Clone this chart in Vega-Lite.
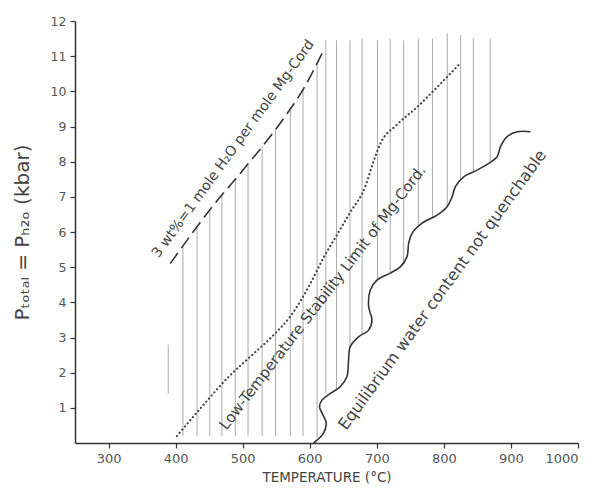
{
  "$schema": "https://vega.github.io/schema/vega-lite/v6.json",
  "width": 503,
  "height": 422,
  "autosize": {"type": "none"},
  "padding": {"left": 75, "top": 21, "right": 37, "bottom": 48},
  "background": "white",
  "config": {
    "view": {"stroke": null},
    "font": "DejaVu Sans",
    "axis": {"grid": false, "labelFont": "DejaVu Sans", "titleFont": "DejaVu Sans", "domainColor": "#333", "domainWidth": 1.5, "tickColor": "#333", "tickWidth": 1.2, "labelColor": "#555", "titleColor": "#444", "titleFontWeight": "normal"}
  },
  "datasets": {
    "hatch": [
      {"T": 389, "top": 2.8, "bot": 1.4},
      {"T": 411, "top": 5.59, "bot": 0.2},
      {"T": 432, "top": 6.13, "bot": 0.2},
      {"T": 451, "top": 6.62, "bot": 0.2},
      {"T": 469, "top": 7.05, "bot": 0.2},
      {"T": 489, "top": 7.5, "bot": 0.2},
      {"T": 508, "top": 7.94, "bot": 0.2},
      {"T": 529, "top": 8.45, "bot": 0.2},
      {"T": 549, "top": 8.93, "bot": 0.2},
      {"T": 571, "top": 9.5, "bot": 0.2},
      {"T": 590, "top": 10.05, "bot": 0.2},
      {"T": 611, "top": 10.8, "bot": 0.15},
      {"T": 624, "top": 11.45, "bot": 1.4},
      {"T": 640, "top": 11.45, "bot": 1.55},
      {"T": 660, "top": 11.45, "bot": 2.7},
      {"T": 678, "top": 11.5, "bot": 3.1},
      {"T": 701, "top": 11.45, "bot": 4.65},
      {"T": 720, "top": 11.5, "bot": 4.83},
      {"T": 740, "top": 11.45, "bot": 5.15},
      {"T": 762, "top": 11.5, "bot": 6.15},
      {"T": 783, "top": 11.5, "bot": 6.41},
      {"T": 805, "top": 11.65, "bot": 6.72},
      {"T": 825, "top": 11.6, "bot": 7.47},
      {"T": 844, "top": 11.5, "bot": 7.7},
      {"T": 869, "top": 11.5, "bot": 8.0}
    ],
    "dashed": [
      {"T": 392, "P": 5.1},
      {"T": 456, "P": 6.75},
      {"T": 500, "P": 7.75},
      {"T": 560, "P": 9.2},
      {"T": 590, "P": 10.05},
      {"T": 619, "P": 11.1}
    ],
    "dotted": [
      {"T": 402, "P": 0.2},
      {"T": 440, "P": 1.05},
      {"T": 480, "P": 1.9},
      {"T": 511, "P": 2.45},
      {"T": 545, "P": 3.05},
      {"T": 571, "P": 3.6},
      {"T": 600, "P": 4.5},
      {"T": 620, "P": 5.25},
      {"T": 640, "P": 5.9},
      {"T": 660, "P": 6.55},
      {"T": 683, "P": 7.3},
      {"T": 695, "P": 8.0},
      {"T": 705, "P": 8.5},
      {"T": 730, "P": 9.05},
      {"T": 760, "P": 9.55},
      {"T": 790, "P": 10.12},
      {"T": 822, "P": 10.75}
    ],
    "wavy": [
      {"i": 1, "T": 605.7, "P": 0.0},
      {"i": 2, "T": 620.6, "P": 0.28},
      {"i": 3, "T": 624.6, "P": 0.56},
      {"i": 4, "T": 619.7, "P": 0.8},
      {"i": 5, "T": 614.6, "P": 1.03},
      {"i": 6, "T": 618.2, "P": 1.22},
      {"i": 7, "T": 630.6, "P": 1.41},
      {"i": 8, "T": 645.5, "P": 1.6},
      {"i": 9, "T": 655.5, "P": 1.89},
      {"i": 10, "T": 657.9, "P": 2.36},
      {"i": 11, "T": 660.4, "P": 2.74},
      {"i": 12, "T": 672.8, "P": 3.02},
      {"i": 13, "T": 687.8, "P": 3.21},
      {"i": 14, "T": 692.8, "P": 3.5},
      {"i": 15, "T": 687.8, "P": 3.88},
      {"i": 16, "T": 690.3, "P": 4.35},
      {"i": 17, "T": 700.3, "P": 4.63},
      {"i": 18, "T": 720.1, "P": 4.83},
      {"i": 19, "T": 735.1, "P": 5.01},
      {"i": 20, "T": 745.1, "P": 5.3},
      {"i": 21, "T": 747.5, "P": 5.68},
      {"i": 22, "T": 752.5, "P": 5.96},
      {"i": 23, "T": 767.5, "P": 6.25},
      {"i": 24, "T": 789.9, "P": 6.48},
      {"i": 25, "T": 804.8, "P": 6.72},
      {"i": 26, "T": 812.2, "P": 7.0},
      {"i": 27, "T": 817.2, "P": 7.29},
      {"i": 28, "T": 829.6, "P": 7.57},
      {"i": 29, "T": 849.6, "P": 7.76},
      {"i": 30, "T": 866.9, "P": 7.95},
      {"i": 31, "T": 879.4, "P": 8.14},
      {"i": 32, "T": 884.3, "P": 8.42},
      {"i": 33, "T": 894.3, "P": 8.71},
      {"i": 34, "T": 909.3, "P": 8.85},
      {"i": 35, "T": 929.1, "P": 8.85}
    ],
    "labels": [
      {"T": 486, "P": 8.36, "text": "3 wt%=1 mole H₂O per mole Mg-Cord", "angle": -54, "size": 14},
      {"T": 619, "P": 4.14, "text": "Low-Temperature Stability Limit of Mg-Cord.", "angle": -52.5, "size": 15},
      {"T": 798, "P": 4.35, "text": "Equilibrium water content not quenchable", "angle": -54, "size": 16.2}
    ]
  },
  "encoding": {
    "x": {"field": "T", "type": "quantitative", "scale": {"domain": [250, 1000], "nice": false, "zero": false},
      "axis": {"values": [300, 400, 500, 600, 700, 800, 900, 1000], "format": "d", "title": "TEMPERATURE (°C)", "labelFontSize": 13, "tickSize": 5, "labelPadding": 4, "titleFontSize": 13.5, "titlePadding": 5}},
    "y": {"field": "P", "type": "quantitative", "scale": {"domain": [0, 12], "nice": false},
      "axis": {"values": [1, 2, 3, 4, 5, 6, 7, 8, 9, 10, 11, 12], "format": "d", "title": "Pₜₒₜₐₗ = Pₕ₂ₒ (kbar)", "labelFontSize": 12.5, "tickSize": 5, "labelPadding": 4, "titleFontSize": 20, "titlePadding": 18}}
  },
  "layer": [
    {
      "data": {"name": "hatch"},
      "mark": {"type": "rule", "color": "#aaa", "strokeWidth": 1},
      "encoding": {"y": {"field": "top", "type": "quantitative"}, "y2": {"field": "bot"}}
    },
    {
      "data": {"name": "dashed"},
      "mark": {"type": "line", "color": "#333", "strokeWidth": 1.6, "strokeDash": [13, 6], "interpolate": "monotone"},
      "encoding": {}
    },
    {
      "data": {"name": "dotted"},
      "mark": {"type": "line", "color": "#444", "strokeWidth": 2.2, "strokeDash": [0.1, 4], "strokeCap": "round", "interpolate": "monotone"},
      "encoding": {}
    },
    {
      "data": {"name": "wavy"},
      "mark": {"type": "line", "color": "#333", "strokeWidth": 1.6, "interpolate": "catmull-rom"},
      "encoding": {"order": {"field": "i", "type": "quantitative"}}
    },
    {
      "data": {"name": "labels"},
      "mark": {"type": "text", "color": "#444", "align": "center", "baseline": "middle", "font": "DejaVu Sans"},
      "encoding": {
        "text": {"field": "text"},
        "angle": {"field": "angle", "type": "quantitative", "scale": null},
        "size": {"field": "size", "type": "quantitative", "scale": null}
      }
    }
  ]
}
